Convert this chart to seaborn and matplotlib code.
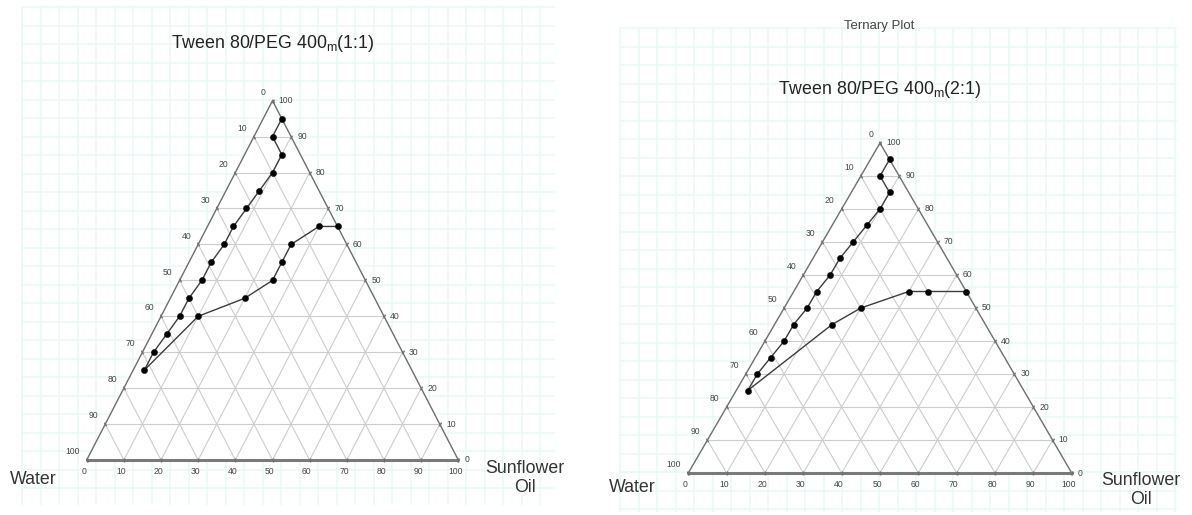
import numpy as np
import pandas as pd
import seaborn as sns
import matplotlib.pyplot as plt

# phase boundary points (% w/w), Smix = Tween 80/PEG 400
smix_11 = [95, 90, 85, 80, 75, 70, 65, 60, 55, 50, 45, 40, 35, 30, 25, 40, 45, 50, 55, 60, 65, 65]
oil_11 = [5, 5, 10, 10, 9, 8, 7, 7, 6, 6, 5, 5, 4, 3, 3, 10, 20, 25, 25, 25, 30, 35]

smix_21 = [95, 90, 85, 80, 75, 70, 65, 60, 55, 50, 45, 40, 35, 30, 25, 45, 50, 55, 55, 55]
oil_21 = [5, 5, 10, 10, 9, 8, 7, 7, 6, 6, 5, 5, 4, 3, 3, 15, 20, 30, 35, 45]

ticks = list(range(0, 101, 10))
titles = ['Tween 80/PEG 400$_{\\mathregular{m}}$(1:1)', 'Tween 80/PEG 400$_{\\mathregular{m}}$(2:1)']

sns.set_style('white')
plt.rcParams['font.family'] = ['Liberation Sans', 'DejaVu Sans']
plt.rcParams['mathtext.fontset'] = 'custom'
plt.rcParams['mathtext.rm'] = 'Liberation Sans'

W, H = 1192, 515


def make_frame(smix, oil):
    df = pd.DataFrame({'Smix': smix, 'Oil': oil})
    df['Water'] = 100 - df['Smix'] - df['Oil']
    # cartesian position inside the triangle
    df['x'] = df['Oil'] + df['Smix'] / 2
    df['y'] = df['Smix']
    return df


def draw_ternary(ax, df):
    ax.set_xlim(0, 100)
    ax.set_ylim(0, 100)
    ax.axis('off')
    ax.fill([0, 100, 50], [0, 0, 100], color='white', zorder=0, clip_on=False)

    grid_kw = dict(color='#cdcdcd', lw=0.8, zorder=1, clip_on=False)
    for k in ticks[1:-1]:
        ax.plot([k / 2, 100 - k / 2], [k, k], **grid_kw)               # constant Smix
        ax.plot([k, 50 + k / 2], [0, 100 - k], **grid_kw)              # constant oil
        ax.plot([100 - k, (100 - k) / 2], [0, 100 - k], **grid_kw)     # constant water

    edge = '#6e6e6e'
    ax.plot([0, 50, 100], [0, 100, 0], color=edge, lw=1.0, zorder=2, clip_on=False)
    ax.plot([0, 100], [0, 0], color='#7a7a7a', lw=2.2, zorder=2, clip_on=False)

    lab_kw = dict(textcoords='offset points', fontsize=6.2, color='#444444', annotation_clip=False)
    for k in ticks:
        # bottom axis: oil
        ax.plot(k, 0, marker='|', ms=3, color=edge, clip_on=False, zorder=2)
        ax.annotate(str(k), (k, 0), xytext=(-2, -8), ha='center', va='center', **lab_kw)
        # left axis: water
        xl, yl = (100 - k) / 2, 100 - k
        ax.plot(xl, yl, marker=(2, 0, 30), ms=3, color=edge, clip_on=False, zorder=2)
        ax.annotate(str(k), (xl, yl), xytext=(-5, 6), ha='right', va='center', **lab_kw)
        # right axis: Smix
        xr, yr = 100 - k / 2, k
        ax.plot(xr, yr, marker=(2, 0, 150), ms=3, color=edge, clip_on=False, zorder=2)
        ax.annotate(str(k), (xr, yr), xytext=(4.5, 0), ha='left', va='center', **lab_kw)

    sns.lineplot(data=df, x='x', y='y', sort=False, estimator=None,
                 color='#3c3c3c', lw=1.0, ax=ax, zorder=3, clip_on=False)
    sns.scatterplot(data=df, x='x', y='y', color='black', s=20, edgecolor='black',
                    linewidth=0.3, ax=ax, zorder=4, clip_on=False)
    ax.set_xlabel('')
    ax.set_ylabel('')


fig = plt.figure(figsize=(W / 100, H / 100), dpi=100)

# graph-paper background in pixel coordinates
bg = fig.add_axes([0, 0, 1, 1])
bg.set_xlim(0, W)
bg.set_ylim(H, 0)
bg.axis('off')
for x0, x1, y0, y1 in [(22, 555, 7, 505), (620, 1177, 28, 512)]:
    xs = np.arange(x0, x1 + 1, 18.5)
    ys = np.arange(y0, y1 + 1, 18.5)
    bg.vlines(xs, y0, y1, color='#e9f9f6', lw=1.1)
    bg.hlines(ys, x0, x1, color='#e9f9f6', lw=1.1)

# triangle boxes in pixels: left, right, apex y, base y
boxes = [(86.7, 458.3, 100.7, 460.0), (688.3, 1071.7, 143.0, 473.0)]
frames = [make_frame(smix_11, oil_11), make_frame(smix_21, oil_21)]

for (xl, xr, ytop, ybase), df in zip(boxes, frames):
    ax = fig.add_axes([xl / W, (H - ybase) / H, (xr - xl) / W, (ybase - ytop) / H])
    draw_ternary(ax, df)

# titles and corner labels
bg.text(273, 43, titles[0], ha='center', va='center', fontsize=12.8, color='#222222')
bg.text(880, 89, titles[1], ha='center', va='center', fontsize=12.8, color='#222222')
bg.text(879, 26, 'Ternary Plot', ha='center', va='center', fontsize=9.5, color='#444444')

bg.text(33, 480, 'Water', ha='center', va='center', fontsize=12.8, color='#333333')
bg.text(525, 478, 'Sunflower\nOil', ha='center', va='center', fontsize=12.8,
        color='#333333', linespacing=1.1)
bg.text(632, 488, 'Water', ha='center', va='center', fontsize=12.8, color='#333333')
bg.text(1141, 490, 'Sunflower\nOil', ha='center', va='center', fontsize=12.8,
        color='#333333', linespacing=1.1)

fig.savefig('out.png', dpi=100, facecolor='white')
